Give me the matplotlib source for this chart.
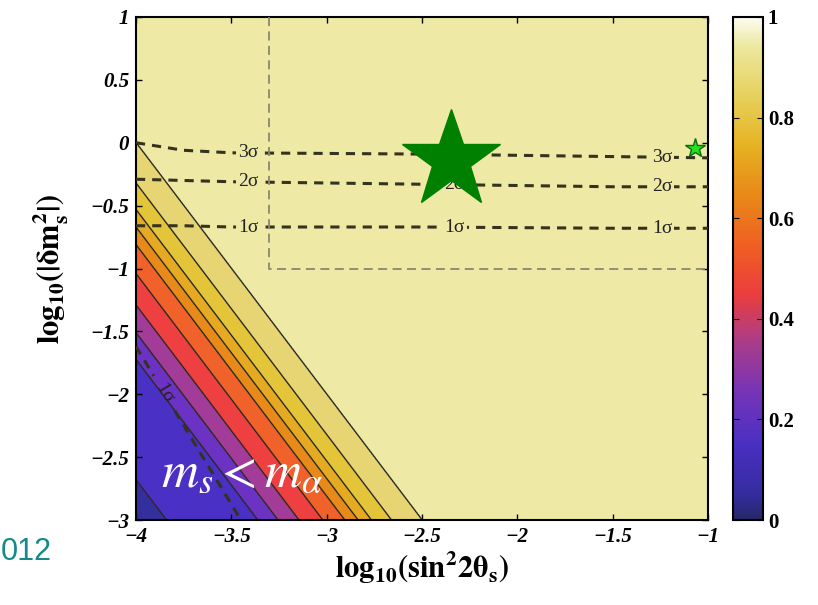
import numpy as np
import matplotlib
matplotlib.use("Agg")
import matplotlib.pyplot as plt
from matplotlib import ticker
from matplotlib.colors import LinearSegmentedColormap, Normalize
from matplotlib.cm import ScalarMappable

plt.rcParams['font.family'] = ['Liberation Serif', 'DejaVu Serif']
plt.rcParams['mathtext.fontset'] = 'stix'

# contour boundaries, read along u = log10(dm2) + 2*log10(sin^2 2theta)
u_levels = [-11.2, -10.68, -9.72, -9.51, -9.29, -9.04, -8.81, -8.67, -8.53, -8.32, -8.00, -6.0]
f_levels = [0.0, 0.1, 0.2, 0.3, 0.4, 0.5, 0.6, 0.65, 0.7, 0.78, 0.88, 0.99]
fill_levels = [0.0, 0.1, 0.2, 0.3, 0.4, 0.5, 0.6, 0.65, 0.7, 0.78, 0.88, 1.0]
band_colors = ['#33309e', '#4a30c4', '#6c32c4', '#a23c98', '#ee4040', '#f0622a',
               '#e88a1a', '#e6aa22', '#e4c53a', '#e6d572', '#eeeaa6']

# horizontal sigma curves
sig_x = [-4.0, -3.75, -3.5, -2.5, -1.5, -1.0]
sig3_y = [0.0, -0.06, -0.08, -0.09, -0.11, -0.12]
sig2_y = [-0.29, -0.30, -0.31, -0.33, -0.35, -0.35]
sig1_y = [-0.66, -0.66, -0.67, -0.67, -0.68, -0.68]
sig_label_x = [-3.41, -2.33, -1.24]

# diagonal 1 sigma (m_s < m_alpha region)
diag_x = [-4.0, -3.45]
diag_y = [-1.62, -3.0]

# dashed box
box_x = [-3.3, -3.3, -1.0]
box_y = [1.0, -1.0, -1.0]

best_fit = (-2.35, -0.135)
other_fit = (-1.07, -0.04)

cmap = LinearSegmentedColormap.from_list('mix', [
    (0.00, '#25286a'), (0.05, '#352ca0'), (0.15, '#4a2fc2'), (0.25, '#7434b8'),
    (0.35, '#a83c8c'), (0.45, '#ec3e3c'), (0.55, '#f06022'), (0.65, '#e88a18'),
    (0.75, '#e6b424'), (0.85, '#e6d260'), (0.95, '#eeeaa6'), (1.00, '#fcfcf0')])

x = np.linspace(-4, -1, 600)
y = np.linspace(-3, 1, 600)
X, Y = np.meshgrid(x, y)
F = np.interp(Y + 2 * X, u_levels, f_levels)

fig = plt.figure(figsize=(8.18, 6.05), dpi=100)
ax = fig.add_axes([136 / 818, 1 - 520 / 605, 572 / 818, 503 / 605])
cax = fig.add_axes([733 / 818, 1 - 520 / 605, 30 / 818, 503 / 605])

ax.contourf(X, Y, F, levels=fill_levels, colors=band_colors)
ax.contour(X, Y, F, levels=fill_levels[1:-1], colors='#2a2a22', linewidths=1.0)

dash_kw = dict(color='#35321f', lw=2.2, linestyle=(0, (3.0, 2.3)), zorder=3)
lab_kw = dict(fontsize=14, ha='center', va='center', color='#222', zorder=4,
              bbox=dict(boxstyle='square,pad=0.1', fc='#eeeaa6', ec='none'))
for ys, lab in [(sig3_y, '3σ'), (sig2_y, '2σ'), (sig1_y, '1σ')]:
    ax.plot(sig_x, ys, **dash_kw)
    for lx in sig_label_x:
        ax.text(lx, np.interp(lx, sig_x, ys), lab, **lab_kw)

# diagonal line with a gap for its label
t = np.array([0.0, 0.17, 0.37, 1.0])
dx = diag_x[0] + t * (diag_x[1] - diag_x[0])
dy = diag_y[0] + t * (diag_y[1] - diag_y[0])
ax.plot(dx[:2], dy[:2], **dash_kw)
ax.plot(dx[2:], dy[2:], **dash_kw)
ax.text((dx[1] + dx[2]) / 2, (dy[1] + dy[2]) / 2, '1σ', fontsize=14, rotation=-59,
        ha='center', va='center', color='#222', rotation_mode='anchor')

ax.plot(box_x, box_y, color='#8a8870', lw=1.3, linestyle=(0, (5, 3)), zorder=3)

ax.plot(*best_fit, marker='*', ms=74, color='#008000', mec='#008000', zorder=6)
ax.plot(*other_fit, marker='*', ms=15, color='#22e022', mec='#0b6b0b', mew=1,
        zorder=6, clip_on=False)

ax.text(-3.87, -2.74, r'$m_s < m_\alpha$', color='white', fontsize=37, zorder=5)

ax.set_xlim(-4, -1)
ax.set_ylim(-3, 1)
ax.set_xticks(np.arange(-4, -0.9, 0.5))
ax.set_yticks(np.arange(-3, 1.1, 0.5))
fmt = ticker.FuncFormatter(lambda v, p: f'{v:g}'.replace('-', '\u2212'))
ax.xaxis.set_major_formatter(fmt)
ax.yaxis.set_major_formatter(fmt)
ax.tick_params(direction='in', top=True, right=True, length=4, width=1, pad=5)
for lab in ax.get_xticklabels() + ax.get_yticklabels():
    lab.set_fontsize(15)
    lab.set_fontweight('bold')
    lab.set_fontstyle('italic')
for s in ax.spines.values():
    s.set_linewidth(1.5)

ax.set_xlabel(r'$\mathbf{log_{10}(sin^2 2\theta_s)}$', fontsize=22, labelpad=2)
ax.set_ylabel(r'$\mathbf{log_{10}(|\delta m_s^2|)}$', fontsize=22, labelpad=14)

cb = fig.colorbar(ScalarMappable(norm=Normalize(0, 1), cmap=cmap), cax=cax)
cb.set_ticks([0, 0.2, 0.4, 0.6, 0.8, 1.0])
cb.set_ticklabels(['0', '0.2', '0.4', '0.6', '0.8', '1'])
cax.tick_params(direction='in', left=True, right=True, length=4, labelsize=15)
for lab in cax.get_yticklabels():
    lab.set_fontweight('bold')
cb.outline.set_linewidth(1.5)

fig.text(1 / 818, 1 - 560 / 605, '012', color='#16898a', fontsize=22,
         family='Liberation Sans', ha='left', va='baseline')

fig.savefig('out.png', dpi=100)
